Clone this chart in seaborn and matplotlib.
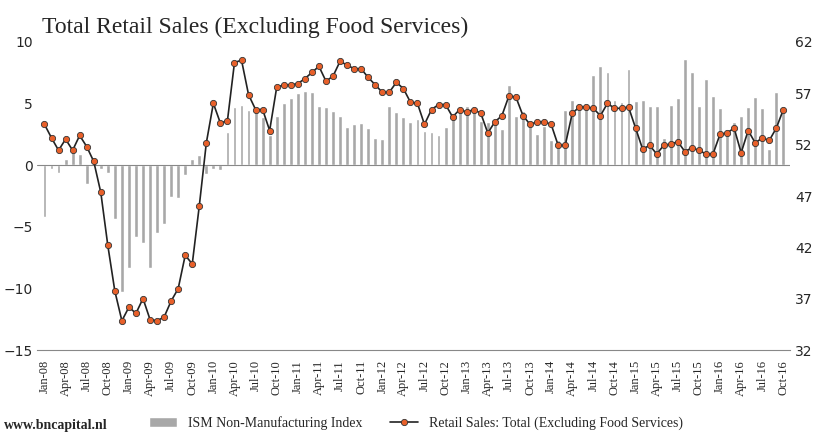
import numpy as np
import pandas as pd
import matplotlib
matplotlib.use("Agg")
import matplotlib.pyplot as plt
import seaborn as sns

months = pd.date_range("2008-01-01", "2016-10-01", freq="MS")
labels = [d.strftime("%b-%y") for d in months]

ism_bars = [-4.2,-0.3,-0.6,0.5,1.2,0.9,-1.5,0.6,-0.3,-0.6,-4.4,-10.3,
            -8.3,-5.8,-6.3,-8.3,-5.5,-4.8,-2.6,-2.7,-0.8,0.5,0.8,-0.7,
            -0.3,-0.4,2.7,4.7,4.9,4.5,4.6,3.9,2.4,4.0,5.0,5.4,
            5.8,6.0,5.9,4.8,4.7,4.4,4.0,3.1,3.3,3.4,3.0,2.2,
            2.1,4.8,4.3,3.9,3.5,3.7,2.8,2.7,2.4,3.1,4.2,4.4,
            4.8,4.4,3.6,3.5,3.3,2.9,6.5,4.0,4.4,3.2,2.5,3.2,
            2.0,2.0,4.5,5.3,4.9,4.6,7.3,8.0,7.5,5.3,5.1,7.8,
            5.2,5.3,4.8,4.8,2.2,4.9,5.4,8.6,7.5,4.8,7.0,5.6,
            4.6,2.7,3.5,4.0,4.7,5.5,4.6,1.3,5.9,4.7]
retail = [53.96,52.64,51.44,52.52,51.44,52.88,51.80,50.36,47.36,42.20,37.76,34.88,
          36.20,35.60,37.04,35.00,34.88,35.24,36.80,38.00,41.24,40.40,46.04,52.16,
          56.00,54.08,54.32,59.96,60.20,56.84,55.40,55.40,53.36,57.56,57.80,57.80,
          57.92,58.40,59.00,59.60,58.16,58.64,60.08,59.72,59.36,59.36,58.52,57.80,
          57.08,57.08,58.04,57.44,56.12,56.00,53.96,55.40,55.88,55.88,54.68,55.40,
          55.16,55.40,55.04,53.12,54.20,54.80,56.72,56.60,54.80,53.96,54.20,54.20,
          53.96,51.92,51.92,55.04,55.64,55.64,55.52,54.80,56.00,55.52,55.52,55.64,
          53.60,51.56,51.92,51.08,51.92,52.04,52.28,51.32,51.68,51.44,51.08,51.08,
          53.00,53.12,53.60,51.20,53.36,52.16,52.64,52.40,53.60,55.40]

x = np.arange(len(months))
df = pd.DataFrame({"x": x, "bars": ism_bars, "retail": retail})

sns.set_style("white")
fig, ax = plt.subplots(figsize=(8.32, 4.38), dpi=100)
fig.subplots_adjust(left=0.045, right=0.95, top=0.905, bottom=0.2)

sns.barplot(data=df, x="x", y="bars", color="#a8a8a8", saturation=1, width=0.55,
            ax=ax, label="ISM Non-Manufacturing Index", native_scale=True)
ax.set_ylim(-15, 10)
ax.set_yticks([-15, -10, -5, 0, 5, 10])
ax.set_xlim(-1, len(x))
ax.set_xticks(x[::3])
ax.set_xticklabels(labels[::3], rotation=90, fontsize=9, family="Liberation Serif")
ax.set_xlabel("")
ax.set_ylabel("")
ax.tick_params(axis="y", labelsize=10, length=0)
ax.axhline(0, color="#888888", lw=0.8)

ax2 = ax.twinx()
sns.lineplot(data=df, x="x", y="retail", ax=ax2, color="#222222", lw=1.2,
             marker="o", markersize=4.5, markerfacecolor="#e8602a",
             markeredgecolor="#333333", markeredgewidth=0.6,
             label="Retail Sales: Total (Excluding Food Services)")
ax2.set_ylim(32, 62)
ax2.set_yticks([32, 37, 42, 47, 52, 57, 62])
ax2.set_ylabel("")
ax2.tick_params(axis="y", labelsize=10, length=0)
for a in (ax, ax2):
    for s in a.spines.values():
        s.set_visible(False)
ax.spines["bottom"].set_visible(True)
ax.spines["bottom"].set_color("#888888")

h1, l1 = ax.get_legend_handles_labels()
h2, l2 = ax2.get_legend_handles_labels()
if ax.get_legend(): ax.get_legend().remove()
if ax2.get_legend(): ax2.get_legend().remove()
fig.legend(h1 + h2, l1 + l2, loc="lower center", ncol=2, frameon=False,
           bbox_to_anchor=(0.5, -0.01), prop={"family": "Liberation Serif", "size": 10})

fig.text(0.05, 0.925, "Total Retail Sales (Excluding Food Services)",
         fontsize=17, family="Liberation Serif")
fig.text(0.005, 0.02, "www.bncapital.nl", fontsize=10, weight="bold", family="Liberation Serif")
fig.savefig("out.png", dpi=100)
